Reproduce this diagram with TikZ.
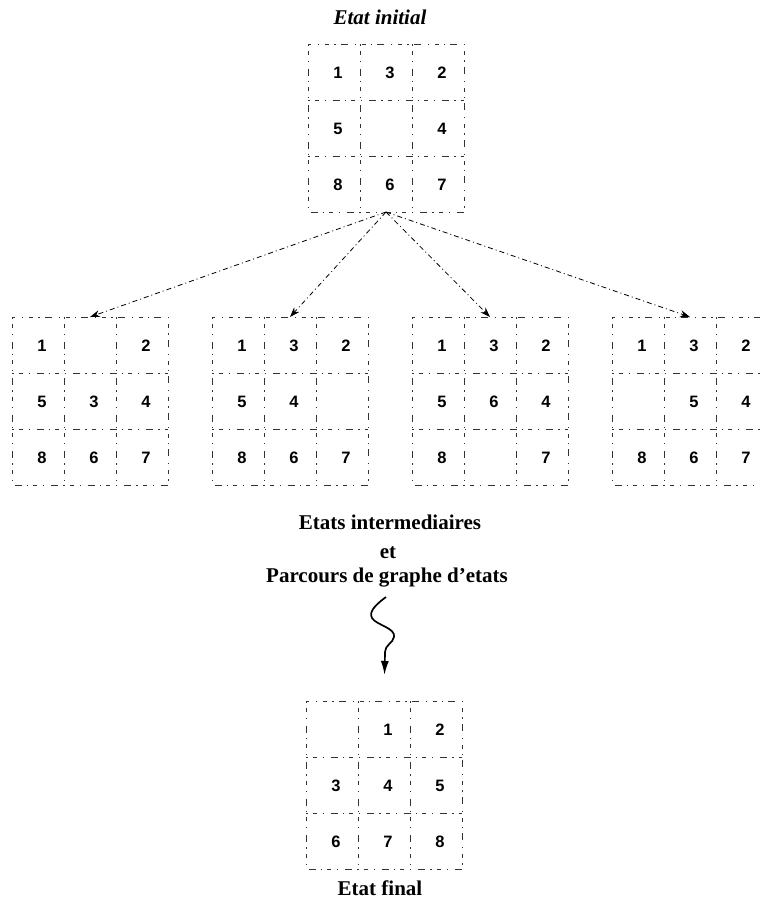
\documentclass[tikz,border=0pt]{standalone}
\usepackage{fontspec}
\setmainfont{Liberation Serif}
\newfontfamily\numfont{Liberation Sans}
\usetikzlibrary{arrows.meta}
\tikzset{
  gridline/.style={line width=1pt, black!80, dash pattern=on 1.5pt off 5pt on 4pt off 6pt on 1pt off 7pt on 7pt off 5pt},
  num/.style={font=\numfont\bfseries\fontsize{16.5}{16.5}\selectfont, inner sep=0pt},
  title/.style={font=\bfseries\fontsize{21}{24}\selectfont, inner sep=0pt},
  gridbox/.style={draw=none, minimum width=156pt, minimum height=168pt, inner sep=0pt, outer sep=0pt},
  move/.style={line width=0.8pt, dash pattern=on 5pt off 3pt on 1pt off 3pt, -{Stealth[length=10pt,width=7pt]}},
}
\newcommand\puzzle[4]{%
  \node[gridbox] (#1) at (#2+78,#3+84) {};
  \draw[gridline] (#2,#3) rectangle (#2+156,#3+168);
  \draw[gridline] (#2+52,#3) -- (#2+52,#3+168) (#2+104,#3) -- (#2+104,#3+168)
                  (#2,#3+56) -- (#2+156,#3+56) (#2,#3+112) -- (#2+156,#3+112);
  \foreach \v [count=\i from 0] in {#4} {
    \pgfmathtruncatemacro\cc{mod(\i,3)}
    \pgfmathtruncatemacro\rr{div(\i,3)}
    \ifnum\v>0 \node[num] (#1-\v) at (#2+30+52*\cc,#3+29+56*\rr) {\v};\fi
  }
}
\begin{document}
\begin{tikzpicture}[x=1pt,y=-1pt]
\useasboundingbox (0,0) rectangle (760,908);
\clip (0,0) rectangle (760,908);
\node[title, font=\bfseries\itshape\fontsize{21}{24}\selectfont] (t0) at (380,17) {Etat initial};
\puzzle{init}{308}{44}{1,3,2,5,0,4,8,6,7}
\puzzle{s1}{12}{317}{1,0,2,5,3,4,8,6,7}
\puzzle{s2}{212}{317}{1,3,2,5,4,0,8,6,7}
\puzzle{s3}{412}{317}{1,3,2,5,6,4,8,0,7}
\puzzle{s4}{612}{317}{1,3,2,0,5,4,8,6,7}
\puzzle{fin}{306}{701}{0,1,2,3,4,5,6,7,8}
\foreach \s in {s1,s2,s3,s4} \draw[move] (init.south) -- (\s.north);
\node[title] (t1) at (390,522) {Etats intermediaires};
\node[title] (t2) at (388,553) {et};
\node[title] (t3) at (387,578) {Parcours de graphe d'etats};
\coordinate (sqtop) at (386,597);
\draw[line width=1.7pt, -{Latex[length=14pt,width=8pt]}, shorten >=26pt]
  (sqtop) .. controls (378,603) and (368,611) .. (372,618)
          .. controls (376,625) and (396,628) .. (394,637)
          .. controls (393,643) and (385,645) .. (385,652) -- (fin.north);
\node[title] (t4) at (380,888) {Etat final};
\end{tikzpicture}
\end{document}
